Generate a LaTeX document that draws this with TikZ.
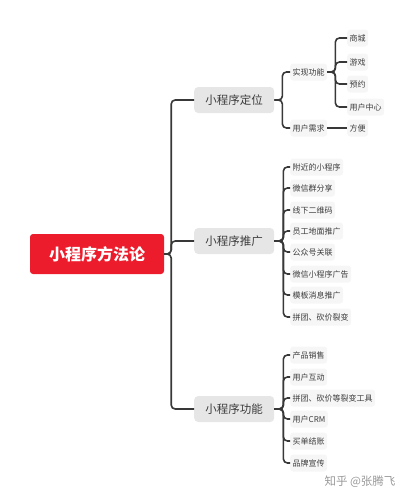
\documentclass[tikz,border=0pt]{standalone}
\usepackage{fontspec}
\usepackage{xcolor}
\usepackage{tikz}
\usetikzlibrary{positioning}
\newfontfamily\cjk{Noto Sans CJK SC}

\definecolor{rootred}{HTML}{EC1C2C}
\definecolor{topicgray}{HTML}{E6E6E6}
\definecolor{leafgray}{HTML}{F6F6F6}
\definecolor{linegray}{HTML}{383838}
\definecolor{textgray}{HTML}{3C3C3C}

\begin{document}
\begin{tikzpicture}[
  x=1pt, y=-1pt,
  font=\cjk,
  rootbox/.style={
    fill=rootred,
    text=white,
    rounded corners=3pt,
    minimum width=134pt,
    minimum height=40pt,
    font=\cjk\bfseries\fontsize{16}{18}\selectfont
  },
  topicbox/.style={
    fill=topicgray,
    text=textgray,
    rounded corners=4pt,
    anchor=west,
    minimum width=80pt,
    minimum height=26pt,
    font=\cjk\fontsize{11.5}{13}\selectfont
  },
  leafbox/.style={
    fill=leafgray,
    text=textgray,
    rounded corners=3pt,
    anchor=west,
    inner sep=2.5pt,
    minimum height=17pt,
    font=\cjk\fontsize{8}{10}\selectfont
  },
  branch/.style={
    draw=linegray,
    line width=1.6pt,
    rounded corners=4pt
  }
]
\useasboundingbox (0,0) rectangle (417,501);

% Root
\node[rootbox] (root) at (97,254) {小程序方法论};

% -------------------------------------------------------------------
% First level
% -------------------------------------------------------------------
\node[topicbox] (pos) at (194,100) {小程序定位};
\node[topicbox] (promo) at (194,241) {小程序推广};
\node[topicbox] (func) at (194,409) {小程序功能};

% -------------------------------------------------------------------
% Positioning branch
% -------------------------------------------------------------------
\node[leafbox] (realize) at (290,72) {实现功能};
\node[leafbox] (need) at (290,128) {用户需求};

\node[leafbox] (mall) at (347,38) {商城};
\node[leafbox] (game) at (347,62) {游戏};
\node[leafbox] (book) at (347,84) {预约};
\node[leafbox] (center) at (347,107) {用户中心};
\node[leafbox] (easy) at (347,128) {方便};

% -------------------------------------------------------------------
% Promotion branch
% -------------------------------------------------------------------
\node[leafbox] (pa) at (290,167) {附近的小程序};
\node[leafbox] (pb) at (290,188) {微信群分享};
\node[leafbox] (pc) at (290,210) {线下二维码};
\node[leafbox] (pd) at (290,231) {员工地面推广};
\node[leafbox] (pe) at (290,252) {公众号关联};
\node[leafbox] (pf) at (290,274) {微信小程序广告};
\node[leafbox] (pg) at (290,295) {模板消息推广};
\node[leafbox] (ph) at (290,317) {拼团、砍价裂变};

% -------------------------------------------------------------------
% Function branch
% -------------------------------------------------------------------
\node[leafbox] (fa) at (290,355) {产品销售};
\node[leafbox] (fb) at (290,377) {用户互动};
\node[leafbox] (fc) at (290,398) {拼团、砍价等裂变工具};
\node[leafbox] (fd) at (290,419) {用户CRM};
\node[leafbox] (fe) at (290,441) {买单结账};
\node[leafbox] (ff) at (290,463) {品牌宣传};

% Connectors
\foreach \c in {pos,promo,func}
  \draw[branch] (root.east) -- ++(7,0) |- (\c.west);
\foreach \c in {realize,need}
  \draw[branch] (pos.east) -- ++(8,0) |- (\c.west);
\foreach \c in {mall,game,book,center}
  \draw[branch] (realize.east) -- ++(8,0) |- (\c.west);
\draw[branch] (need.east) -- (easy.west);
\foreach \c in {pa,pb,pc,pd,pe,pf,pg,ph}
  \draw[branch] (promo.east) -- ++(9,0) |- (\c.west);
\foreach \c in {fa,fb,fc,fd,fe,ff}
  \draw[branch] (func.east) -- ++(9,0) |- (\c.west);

% Watermark
\node[anchor=west, text=black!40, font=\cjk\fontsize{11.5}{13}\selectfont] (mark) at (321,482) {知乎 @张腾飞};

\end{tikzpicture}
\end{document}
